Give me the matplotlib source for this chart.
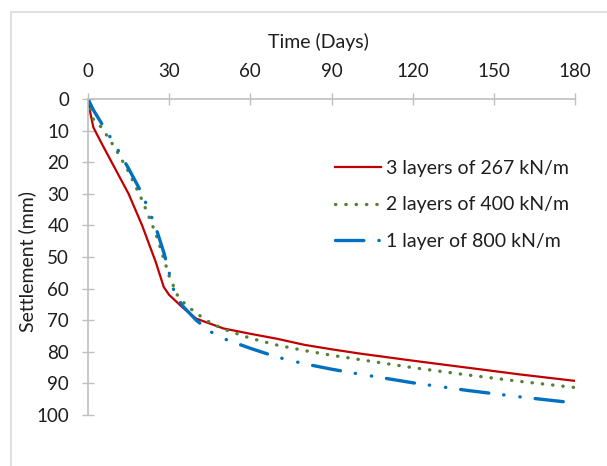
import numpy as np
import matplotlib.pyplot as plt
from matplotlib.patches import Rectangle

plt.rcParams['font.family'] = ['Lato', 'DejaVu Sans']

# time (days) and settlement (mm)
t_red = [0, 1, 2, 5, 10, 15, 20, 25, 28, 30, 35, 40, 50, 60, 70, 80, 90, 100, 120, 140, 160, 180]
s_red = [0, 5, 9, 14, 22, 30, 40, 51.5, 59.5, 62, 66, 69.5, 72.6, 74.3, 75.9, 77.8, 79.2, 80.5, 82.8, 85, 87.2, 89.2]

t_green = [0, 2, 5, 10, 15, 20, 25, 28, 30, 33, 36, 40, 45, 50, 60, 70, 80, 90, 100, 120, 140, 160, 180]
s_green = [0, 6.5, 9, 15.5, 23, 32, 42.5, 50.5, 56, 62, 65, 67.8, 70.7, 72.8, 75.7, 77.9, 79.6, 81.1, 82.4, 85, 87.3, 89.4, 91.3]

t_blue = [0, 2, 5, 10, 15, 20, 25, 28, 30, 32, 35, 40, 45, 50, 60, 70, 80, 90, 100, 120, 140, 160, 180]
s_blue = [0, 3.5, 7.7, 14.5, 22, 30, 40.5, 48.5, 55, 61.5, 65.5, 70, 73.5, 75.8, 78.9, 81.7, 83.8, 85.5, 87, 89.8, 92.2, 94.3, 96.2]

labels = ['3 layers of 267 kN/m', '2 layers of 400 kN/m', '1 layer of 800 kN/m']
xticks = [0, 30, 60, 90, 120, 150, 180]
yticks = list(range(0, 101, 10))

txt_col = '#1e1e1e'

fig = plt.figure(figsize=(6.07, 4.66), dpi=100)
fig.patches.append(Rectangle((11/607, -0.1), 1.2, 1.1 - 12/466, transform=fig.transFigure,
                             fill=False, edgecolor='#d9d9d9', lw=1.2))
ax = fig.add_axes([88/607, 1 - 415/466, (575-88)/607, (415-99)/466])

ax.plot(t_red, s_red, color='#c00000', lw=1.6, label=labels[0])
ax.plot(t_green, s_green, color='#548235', lw=2.4, linestyle=(0, (0.1, 3.0)),
        dash_capstyle='round', label=labels[1])
ax.plot(t_blue, s_blue, color='#0070c0', lw=2.4, linestyle=(0, (8.5, 4.5, 0.1, 4.8, 0.1, 4.5)),
        dash_capstyle='round', label=labels[2])

ax.set_xlim(0, 180)
ax.set_ylim(100, 0)
ax.set_xticks(xticks)
ax.set_yticks(yticks)
ax.xaxis.tick_top()
ax.xaxis.set_label_position('top')
for side in ['right', 'bottom']:
    ax.spines[side].set_visible(False)
for side in ['left', 'top']:
    ax.spines[side].set_color('#bfbfbf')
    ax.spines[side].set_linewidth(1.2)
ax.tick_params(axis='both', direction='inout', length=9, width=1, color='#bfbfbf',
               labelsize=13.5, labelcolor=txt_col, pad=9)

ax.set_xlabel('Time (Days)', fontsize=14, color=txt_col)
ax.xaxis.set_label_coords((318-88)/(575-88), 1 + (99-48)/316)
ax.set_ylabel('Settlement (mm)', fontsize=14, color=txt_col)
ax.yaxis.set_label_coords(-(88-36)/487, 0.5 - (262-257)/316)

leg = ax.legend(loc='upper left', bbox_to_anchor=((335-88)/487, 1 - (160-99)/316),
                frameon=False, fontsize=14, handlelength=2.35, handletextpad=0.25,
                labelspacing=1.0, borderaxespad=0, borderpad=0)
for txt in leg.get_texts():
    txt.set_color(txt_col)

fig.savefig('out.png', dpi=100)
